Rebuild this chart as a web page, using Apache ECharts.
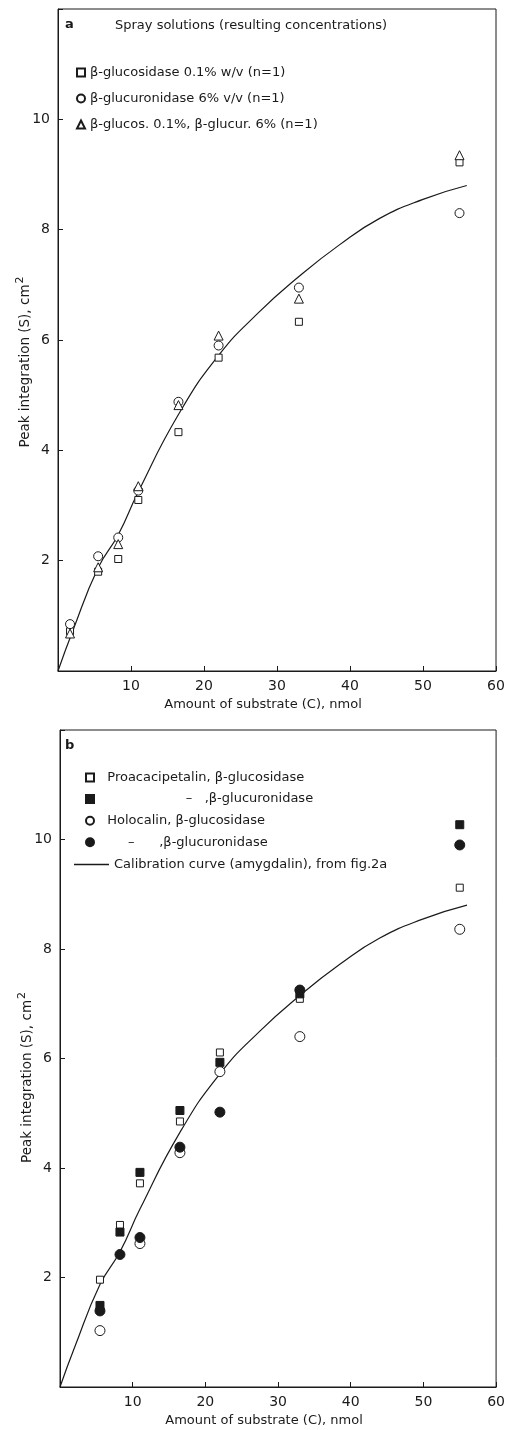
<!DOCTYPE html>
<html>
<head>
<meta charset="utf-8">
<script src="https://cdn.jsdelivr.net/npm/echarts@6/dist/echarts.min.js"></script>
<style>
  html, body { margin: 0; padding: 0; background: #fff; }
  #chart { width: 508px; height: 1430px; }
</style>
</head>
<body>
<div id="chart"></div>
<script>
// amount of substrate (nmol)
const xA = [1.65, 5.5, 8.25, 11, 16.5, 22, 33, 55];
const xB = [5.5, 8.25, 11, 16.5, 22, 33, 55];
const xBHolo = [5.5, 11, 16.5, 22, 33, 55];

// fig a: spray solutions
const glucosidaseA = [0.72, 1.80, 2.03, 3.10, 4.33, 5.68, 6.33, 9.22];
const glucuronidaseA = [0.85, 2.08, 2.42, 3.27, 4.88, 5.90, 6.95, 8.30];
const mixA = [0.68, 1.88, 2.30, 3.35, 4.82, 6.08, 6.75, 9.35];

// fig b: proacacipetalin / holocalin
const proaGlucosidase = [1.96, 2.96, 3.72, 4.85, 6.11, 7.09, 9.12];
const proaGlucuronidase = [1.49, 2.83, 3.92, 5.05, 5.93, 7.18, 10.27];
const holoGlucosidase = [1.03, 2.62, 4.28, 5.76, 6.40, 8.36];
const holoGlucuronidase = [1.39, 2.42, 2.73, 4.38, 5.02, 7.25, 9.90];

// calibration curve (amygdalin)
const curveX = [0, 2, 5.5, 8.25, 11, 16.5, 22, 27.5, 33, 38.5, 44, 50, 56];
const curveY = [0, 0.72, 1.87, 2.47, 3.25, 4.65, 5.72, 6.5, 7.15, 7.72, 8.2, 8.55, 8.8];

const xTicks = ['10', '20', '30', '40', '50', '60'];
const yTicks = ['2', '4', '6', '8', '10'];

const zip = (xs, ys) => xs.map((x, i) => [x, ys[i]]);

const ink = '#1a1a1a';
const font = 'DejaVu Sans';
const hollow = { color: '#fff', borderColor: ink, borderWidth: 1, opacity: 1 };
const filled = { color: ink, borderColor: ink, borderWidth: 1, opacity: 1 };

const xAxisBase = (gridIndex) => ({
    type: 'value', gridIndex: gridIndex, min: 0, max: 60, interval: 10,
    name: 'Amount of substrate (C), nmol', nameLocation: 'middle', nameGap: 27,
    nameMoveOverlap: false,
    nameTextStyle: { color: ink, fontFamily: font, fontSize: 13, padding: [0, 28, 0, 0] },
    axisLine: { lineStyle: { color: ink, width: 1 } },
    axisTick: { inside: true, length: 5, lineStyle: { color: ink } },
    axisLabel: {
        color: ink, fontFamily: font, fontSize: 14, margin: 8,
        formatter: v => xTicks.indexOf(String(v)) >= 0 ? String(v) : ''
    },
    splitLine: { show: false }
});
const yAxisBase = (gridIndex, shift) => ({
    type: 'value', gridIndex: gridIndex, min: 0, max: 12, interval: 2,
    name: 'Peak integration (S), cm{sup|2}', nameLocation: 'middle', nameGap: 22,
    nameMoveOverlap: false,
    nameTextStyle: {
        color: ink, fontFamily: font, fontSize: 13.5, padding: [0, shift, 0, 0],
        rich: { sup: { fontSize: 11, color: ink, fontFamily: font, padding: [0, 0, 10, 1] } }
    },
    axisLine: { lineStyle: { color: ink, width: 1 } },
    axisTick: { inside: true, length: 5, lineStyle: { color: ink } },
    axisLabel: {
        color: ink, fontFamily: font, fontSize: 14, margin: 8,
        formatter: v => yTicks.indexOf(String(v)) >= 0 ? String(v) : ''
    },
    splitLine: { show: false }
});

const legendText = { fontSize: 13, color: ink, fontFamily: font };

const myChart = echarts.init(document.getElementById('chart'), null, { renderer: 'canvas' });
const option = {
    backgroundColor: '#fff',
    animation: false,
    textStyle: { fontFamily: font, color: ink },
    title: [
        { text: 'a', left: 65, top: 18, padding: 0, textStyle: { fontSize: 13, fontWeight: 'bold', color: ink, fontFamily: font } },
        { text: 'Spray solutions (resulting concentrations)', left: 115, top: 19, padding: 0,
          textStyle: { fontSize: 13, fontWeight: 'normal', color: ink, fontFamily: font } },
        { text: 'b', left: 65, top: 739, padding: 0, textStyle: { fontSize: 13, fontWeight: 'bold', color: ink, fontFamily: font } }
    ],
    grid: [
        { left: 58, top: 9, width: 438, height: 662, show: true, borderColor: ink, borderWidth: 1 },
        { left: 60, top: 730, width: 439, height: 657, show: true, borderColor: ink, borderWidth: 1 }
    ],
    xAxis: [xAxisBase(0), xAxisBase(1)],
    yAxis: [yAxisBase(0, 44), yAxisBase(1, 38)],
    legend: [
        {
            orient: 'vertical', left: 76, top: 66, padding: 0, itemGap: 13, itemWidth: 8, itemHeight: 8,
            textStyle: legendText,
            data: ['β-glucosidase 0.1% w/v (n=1)', 'β-glucuronidase 6% v/v (n=1)', 'β-glucos. 0.1%, β-glucur. 6% (n=1)']
        },
        {
            orient: 'vertical', left: 85, top: 771, padding: 0, itemGap: 8.6, itemWidth: 8, itemHeight: 8,
            textStyle: legendText,
            formatter: name => {
                // ditto marks for the repeated substance names
                if (name === 'Proacacipetalin, β-glucuronidase') return '  ' + ' '.repeat(19) + '–' + ' '.repeat(3) + ',β-glucuronidase';
                if (name === 'Holocalin, β-glucuronidase') return '  ' + ' '.repeat(5) + '–' + ' '.repeat(6) + ',β-glucuronidase';
                return '  ' + name;
            },
            data: ['Proacacipetalin, β-glucosidase', 'Proacacipetalin, β-glucuronidase', 'Holocalin, β-glucosidase', 'Holocalin, β-glucuronidase']
        },
        {
            orient: 'vertical', left: 74, top: 858, padding: 0, itemWidth: 35, itemHeight: 1.3,
            textStyle: legendText,
            data: [{ name: 'Calibration curve (amygdalin), from fig.2a', icon: 'rect' }]
        }
    ],
    series: [
        {
            name: 'Calibration curve a', type: 'line', xAxisIndex: 0, yAxisIndex: 0,
            data: zip(curveX, curveY), smooth: true, showSymbol: false, symbol: 'none',
            lineStyle: { color: ink, width: 1.2 }, z: 1
        },
        { name: 'β-glucosidase 0.1% w/v (n=1)', type: 'scatter', xAxisIndex: 0, yAxisIndex: 0,
          data: zip(xA, glucosidaseA), symbol: 'rect', symbolSize: 7, itemStyle: hollow, z: 3 },
        { name: 'β-glucuronidase 6% v/v (n=1)', type: 'scatter', xAxisIndex: 0, yAxisIndex: 0,
          data: zip(xA, glucuronidaseA), symbol: 'circle', symbolSize: 9, itemStyle: hollow, z: 3 },
        { name: 'β-glucos. 0.1%, β-glucur. 6% (n=1)', type: 'scatter', xAxisIndex: 0, yAxisIndex: 0,
          data: zip(xA, mixA), symbol: 'triangle', symbolSize: 9, itemStyle: hollow, z: 3 },

        {
            name: 'Calibration curve (amygdalin), from fig.2a', type: 'line', xAxisIndex: 1, yAxisIndex: 1,
            data: zip(curveX, curveY), smooth: true, showSymbol: false, symbol: 'none',
            itemStyle: { color: ink }, lineStyle: { color: ink, width: 1.2 }, z: 1
        },
        { name: 'Proacacipetalin, β-glucosidase', type: 'scatter', xAxisIndex: 1, yAxisIndex: 1,
          data: zip(xB, proaGlucosidase), symbol: 'rect', symbolSize: 7, itemStyle: hollow, z: 3 },
        { name: 'Proacacipetalin, β-glucuronidase', type: 'scatter', xAxisIndex: 1, yAxisIndex: 1,
          data: zip(xB, proaGlucuronidase), symbol: 'rect', symbolSize: 8, itemStyle: filled, z: 3 },
        { name: 'Holocalin, β-glucosidase', type: 'scatter', xAxisIndex: 1, yAxisIndex: 1,
          data: zip(xBHolo, holoGlucosidase), symbol: 'circle', symbolSize: 10, itemStyle: hollow, z: 3 },
        { name: 'Holocalin, β-glucuronidase', type: 'scatter', xAxisIndex: 1, yAxisIndex: 1,
          data: zip(xB, holoGlucuronidase), symbol: 'circle', symbolSize: 10, itemStyle: filled, z: 3 }
    ]
};
option && myChart.setOption(option);
</script>
</body>
</html>
